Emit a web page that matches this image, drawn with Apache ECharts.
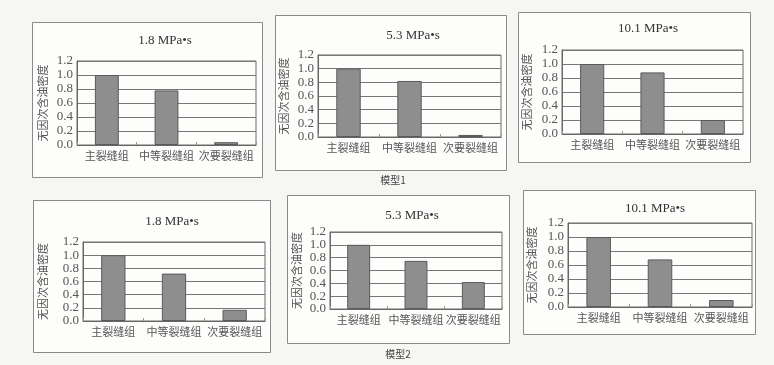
<!DOCTYPE html>
<html>
<head>
<meta charset="utf-8">
<script src="https://cdn.jsdelivr.net/npm/echarts@6/dist/echarts.min.js"></script>
<style>
html,body{margin:0;padding:0;background:#f6f6f4;}
#c{width:774px;height:365px;}
</style>
</head>
<body>
<div id="c"></div>
<script>
// ---- data ----
var categories = ['主裂缝组', '中等裂缝组', '次要裂缝组'];
var panelTitles = ['1.8 MPa•s', '5.3 MPa•s', '10.1 MPa•s', '1.8 MPa•s', '5.3 MPa•s', '10.1 MPa•s'];
var yAxisName = '无因次含油密度';
var groupLabels = ['模型1', '模型2'];
var model1_18 = [1.0, 0.78, 0.04];
var model1_53 = [1.0, 0.82, 0.03];
var model1_101 = [1.0, 0.88, 0.20];
var model2_18 = [1.0, 0.72, 0.17];
var model2_53 = [1.0, 0.75, 0.42];
var model2_101 = [1.0, 0.68, 0.10];
var seriesData = [model1_18, model1_53, model1_101, model2_18, model2_53, model2_101];

// ---- layout (pixels) ----
var plots = [
  {l:77, t:61, r:256, b:145, nx:43},
  {l:318, t:55, r:501, b:137, nx:284},
  {l:562, t:50, r:743, b:134, nx:527},
  {l:83, t:242, r:265, b:321, nx:43},
  {l:330, t:232, r:502, b:309, nx:297},
  {l:568, t:223, r:752, b:307, nx:532}
];
var boxes = [
  {x:32, y:22, x2:262, y2:177, tx:160, ty:37},
  {x:275, y:15, x2:506, y2:170, tx:408, ty:32},
  {x:518, y:12, x2:750, y2:162, tx:643, ty:25},
  {x:33, y:200, x2:270, y2:352, tx:167, ty:218},
  {x:287, y:195, x2:509, y2:343, tx:407, ty:212},
  {x:523, y:190, x2:755, y2:334, tx:650, ty:205}
];

var grids = [], xAxes = [], yAxes = [], series = [], titles = [], graphics = [];
for (var i = 0; i < 6; i++) {
  var p = plots[i], bx = boxes[i];
  graphics.push({type:'rect', z:-1, shape:{x:bx.x+0.5, y:bx.y+0.5, width:bx.x2-bx.x, height:bx.y2-bx.y},
    style:{fill:'#fdfdfc', stroke:'#8a8a8a', lineWidth:1}});
  graphics.push({type:'text', x:p.nx, y:(p.t+p.b)/2, rotation:Math.PI/2,
    style:{text:yAxisName, fill:'#555', font:'11px "Noto Sans CJK SC"', textAlign:'center', textVerticalAlign:'middle'}});
  grids.push({left:p.l, top:p.t, width:p.r-p.l, height:p.b-p.t, show:true, borderColor:'#6a6a6a', borderWidth:1, backgroundColor:'transparent'});
  xAxes.push({type:'category', gridIndex:i, data:categories,
    axisLine:{lineStyle:{color:'#666'}},
    axisTick:{show:true, inside:true, length:3, lineStyle:{color:'#999'}},
    axisLabel:{color:'#555', fontSize:11, fontFamily:'Noto Sans CJK SC', margin:5, interval:0}});
  yAxes.push({type:'value', gridIndex:i, min:0, max:1.2, interval:0.2,
    axisLine:{show:true, lineStyle:{color:'#666'}},
    axisTick:{show:false},
    splitLine:{lineStyle:{color:'#777', width:1}},
    axisLabel:{color:'#555', fontSize:13, fontFamily:'Liberation Serif', margin:4,
      formatter:function(v){return v.toFixed(1);}}});
  series.push({type:'bar', xAxisIndex:i, yAxisIndex:i, data:seriesData[i], barWidth:'40%',
    itemStyle:{color:'#8e8e8e', borderColor:'#5a5a5a', borderWidth:1}});
  titles.push({text:panelTitles[i], left:bx.tx, top:bx.ty-8, textAlign:'center',
    textStyle:{color:'#333', fontSize:13, fontWeight:'normal', fontFamily:'Liberation Serif'}});
}
graphics.push({type:'text', x:393, y:180, style:{text:groupLabels[0], fill:'#444', font:'10px "Noto Sans CJK SC"', textAlign:'center', textVerticalAlign:'middle'}});
graphics.push({type:'text', x:398, y:354, style:{text:groupLabels[1], fill:'#444', font:'10px "Noto Sans CJK SC"', textAlign:'center', textVerticalAlign:'middle'}});

var chart = echarts.init(document.getElementById('c'), null, {renderer:'canvas'});
chart.setOption({
  backgroundColor:'#f6f6f4',
  animation:false,
  title:titles,
  grid:grids,
  xAxis:xAxes,
  yAxis:yAxes,
  series:series,
  graphic:graphics
});
</script>
</body>
</html>
